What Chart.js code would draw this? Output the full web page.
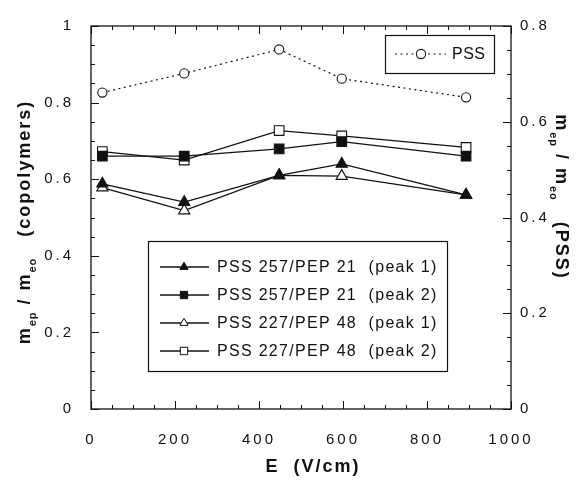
<!DOCTYPE html>
<html>
<head>
<meta charset="utf-8">
<script src="https://cdn.jsdelivr.net/npm/chart.js@4"></script>
<style>
  html, body { margin: 0; padding: 0; background: #fff; }
  #wrap { width: 582px; height: 481px; }
</style>
</head>
<body>
<div id="wrap"><canvas id="chart"></canvas></div>
<script>
// data
const fieldE = [27, 222, 448, 597, 893];                // V/cm
const pss257peak1 = [0.588, 0.540, 0.610, 0.640, 0.559];
const pss257peak2 = [0.660, 0.660, 0.679, 0.698, 0.660];
const pss227peak1 = [0.578, 0.518, 0.610, 0.608, 0.559];
const pss227peak2 = [0.672, 0.650, 0.727, 0.713, 0.683];
const pssHomo = [0.661, 0.701, 0.751, 0.690, 0.651];     // right axis

const seriesNames = [
    'PSS 257/PEP 21  (peak 1)',
    'PSS 257/PEP 21  (peak 2)',
    'PSS 227/PEP 48  (peak 1)',
    'PSS 227/PEP 48  (peak 2)',
    'PSS'
];
const xTicks = [0, 200, 400, 600, 800, 1000];
const yLeftTicks = [0, 0.2, 0.4, 0.6, 0.8, 1];
const yRightTicks = [0, 0.2, 0.4, 0.6, 0.8];

const INK = '#111';
const FONT = '"Liberation Sans", Arial, sans-serif';

function pts(ys) {
    return fieldE.map((x, i) => ({ x: x, y: ys[i] }));
}

function series(label, ys, style, filled, radius, axis) {
    return {
        label: label,
        data: pts(ys),
        yAxisID: axis || 'y',
        showLine: true,
        borderColor: INK,
        borderWidth: 1.3,
        pointStyle: style,
        pointRadius: radius,
        pointBorderWidth: 1.1,
        pointBorderColor: INK,
        pointBackgroundColor: filled ? INK : '#fff',
        pointHoverRadius: radius
    };
}

const datasets = [
    series(seriesNames[0], pss257peak1, 'triangle', true, 6.5),
    series(seriesNames[1], pss257peak2, 'rect', true, 6.8),
    series(seriesNames[2], pss227peak1, 'triangle', false, 6.5),
    series(seriesNames[3], pss227peak2, 'rect', false, 6.8),
    series(seriesNames[4], pssHomo, 'circle', false, 4.6, 'y2')
];
datasets[4].borderDash = [2, 3.5];
datasets[4].borderWidth = 1.2;

// text with subscripts, drawn around a centre point
function richText(ctx, parts, cx, cy, angle) {
    ctx.save();
    ctx.translate(cx, cy);
    ctx.rotate(angle);
    ctx.fillStyle = INK;
    ctx.textAlign = 'left';
    ctx.textBaseline = 'alphabetic';
    let total = 0;
    parts.forEach(p => {
        ctx.font = p.font;
        ctx.letterSpacing = p.ls || '0px';
        total += ctx.measureText(p.t).width;
    });
    let x = -total / 2;
    parts.forEach(p => {
        ctx.font = p.font;
        ctx.letterSpacing = p.ls || '0px';
        ctx.fillText(p.t, x, 6 + (p.dy || 0));
        x += ctx.measureText(p.t).width;
    });
    ctx.restore();
}

const figurePlugin = {
    id: 'figure',
    beforeDraw(chart) {
        chart.ctx.letterSpacing = '3px';
    },
    afterDraw(chart) {
        const ctx = chart.ctx;
        const a = chart.chartArea;
        const sx = chart.scales.x, sy = chart.scales.y, sy2 = chart.scales.y2;
        ctx.save();
        ctx.letterSpacing = '0px';
        ctx.strokeStyle = INK;
        ctx.lineWidth = 1.3;
        ctx.strokeRect(a.left, a.top, a.right - a.left, a.bottom - a.top);

        ctx.lineWidth = 1;
        ctx.beginPath();
        // x ticks, bottom and top, inward
        for (let v = 0; v <= 1000; v += 50) {
            const px = Math.round(sx.getPixelForValue(v)) + 0.5;
            const len = (v % 200 === 0) ? 8 : 4;
            ctx.moveTo(px, a.bottom); ctx.lineTo(px, a.bottom - len);
            ctx.moveTo(px, a.top); ctx.lineTo(px, a.top + len);
        }
        // left y ticks
        for (let k = 0; k <= 20; k++) {
            const py = Math.round(sy.getPixelForValue(k * 0.05)) + 0.5;
            const len = (k % 4 === 0) ? 8 : 4;
            ctx.moveTo(a.left, py); ctx.lineTo(a.left + len, py);
        }
        // right y ticks
        for (let k = 0; k <= 16; k++) {
            const py = Math.round(sy2.getPixelForValue(k * 0.05)) + 0.5;
            const len = (k % 4 === 0) ? 8 : 4;
            ctx.moveTo(a.right, py); ctx.lineTo(a.right - len, py);
        }
        ctx.stroke();

        // axis titles
        const big = 'bold 18px ' + FONT;
        const sub = 'bold 11px ' + FONT;
        richText(ctx, [
            { t: 'm', font: big, ls: '2px' },
            { t: 'ep', font: sub, dy: 6, ls: '1px' },
            { t: ' / m', font: big, ls: '2px' },
            { t: 'eo', font: sub, dy: 6, ls: '1px' },
            { t: '   (copolymers)', font: big, ls: '2px' }
        ], 24, 222, -Math.PI / 2);
        richText(ctx, [
            { t: 'm', font: big, ls: '2px' },
            { t: 'ep', font: sub, dy: 6, ls: '1px' },
            { t: ' / m', font: big, ls: '2px' },
            { t: 'eo', font: sub, dy: 6, ls: '1px' },
            { t: '   (PSS)', font: big, ls: '2px' }
        ], 562, 197, Math.PI / 2);
        richText(ctx, [{ t: 'E  (V/cm)', font: big, ls: '2px' }], 313, 466, 0);

        // legend for the PSS series
        const drawPoint = Chart.helpers.drawPoint;
        ctx.lineWidth = 1.2;
        ctx.strokeStyle = INK;
        ctx.strokeRect(385.5, 35.5, 109, 38);
        ctx.beginPath();
        ctx.setLineDash([2, 3.5]);
        ctx.moveTo(395, 54); ctx.lineTo(446, 54);
        ctx.stroke();
        ctx.setLineDash([]);
        ctx.fillStyle = '#fff';
        ctx.lineWidth = 1.1;
        drawPoint(ctx, { pointStyle: 'circle', radius: 4.6, borderWidth: 1.1 }, 421, 54);
        ctx.fillStyle = INK;
        ctx.font = '16px ' + FONT;
        ctx.letterSpacing = '0.5px';
        ctx.textBaseline = 'middle';
        ctx.textAlign = 'left';
        ctx.fillText(seriesNames[4], 452, 55);

        // legend for the copolymers
        ctx.lineWidth = 1.2;
        ctx.strokeRect(148.5, 241.5, 299, 130);
        const rows = [267, 295, 323, 351];
        for (let i = 0; i < 4; i++) {
            const ds = chart.data.datasets[i];
            ctx.beginPath();
            ctx.lineWidth = 1.3;
            ctx.moveTo(160, rows[i]); ctx.lineTo(209, rows[i]);
            ctx.stroke();
            ctx.fillStyle = ds.pointBackgroundColor;
            ctx.strokeStyle = INK;
            ctx.lineWidth = 1;
            drawPoint(ctx, { pointStyle: ds.pointStyle, radius: ds.pointStyle === 'rect' ? 5.2 : 4.8, borderWidth: 1 }, 184, rows[i]);
            ctx.fillStyle = INK;
            ctx.font = '16px ' + FONT;
            ctx.letterSpacing = '1.3px';
            ctx.fillText(ds.label, 217, rows[i] + 1);
        }
        ctx.restore();
    }
};

const tickFont = { family: FONT, size: 15 };
const fmt = v => String(v);

new Chart(document.getElementById('chart').getContext('2d'), {
    type: 'scatter',
    data: { datasets: datasets },
    options: {
        responsive: true,
        maintainAspectRatio: false,
        animation: false,
        layout: { padding: { top: 20, left: 0, right: 0, bottom: 0 } },
        plugins: { legend: { display: false }, tooltip: { enabled: false } },
        elements: { line: { tension: 0 } },
        scales: {
            x: {
                type: 'linear', min: 0, max: 1000,
                grid: { display: false, drawTicks: false },
                border: { display: false },
                afterBuildTicks: s => { s.ticks = xTicks.map(v => ({ value: v })); },
                afterFit: s => { s.height = 72; },
                ticks: { font: tickFont, color: INK, padding: 22, callback: fmt, maxRotation: 0, autoSkip: false }
            },
            y: {
                type: 'linear', position: 'left', min: 0, max: 1,
                grid: { display: false, drawTicks: false },
                border: { display: false },
                afterBuildTicks: s => { s.ticks = yLeftTicks.map(v => ({ value: v })); },
                afterFit: s => { s.width = 91; },
                ticks: { font: tickFont, color: INK, padding: 17, callback: fmt }
            },
            y2: {
                type: 'linear', position: 'right', min: 0, max: 0.8,
                grid: { display: false, drawTicks: false },
                border: { display: false },
                afterBuildTicks: s => { s.ticks = yRightTicks.map(v => ({ value: v })); },
                afterFit: s => { s.width = 71; },
                ticks: { font: tickFont, color: INK, padding: 9, callback: fmt }
            }
        }
    },
    plugins: [figurePlugin]
});
</script>
</body>
</html>
